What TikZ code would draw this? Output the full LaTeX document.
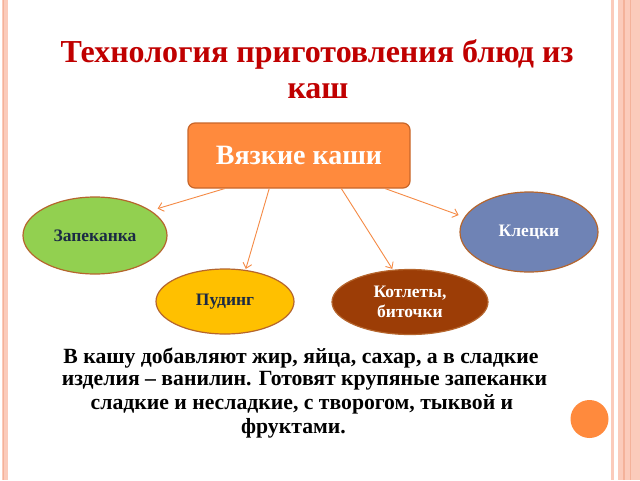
\documentclass[tikz,border=0pt]{standalone}
\usepackage{fontspec}
\setmainfont{Liberation Serif}
\usetikzlibrary{shapes.geometric,arrows.meta}
\definecolor{titlered}{HTML}{C00000}
\definecolor{boxorange}{HTML}{FF8A3D}
\definecolor{boxedge}{HTML}{C8662A}
\definecolor{elledge}{HTML}{B5652D}
\definecolor{greenfill}{HTML}{92D050}
\definecolor{bluefill}{HTML}{6F83B5}
\definecolor{yellowfill}{HTML}{FFC000}
\definecolor{brownfill}{HTML}{9C3D06}
\definecolor{arrowcol}{HTML}{F58A45}
\definecolor{navytext}{HTML}{1B2A45}
\definecolor{stripe}{HTML}{FBCBBB}
\definecolor{stripedark}{HTML}{F4B29A}
\tikzset{
  oval/.style={ellipse, draw=elledge, line width=1.2pt, inner sep=0pt, font=\bfseries\fontsize{17.5}{20}\selectfont, align=center},
  arr/.style={draw=arrowcol, line width=0.9pt, -{Straight Barb[length=5pt,width=9pt]}},
  titletext/.style={text=titlered, font=\bfseries\fontsize{32}{36}\selectfont},
  bodytext/.style={text=black, font=\bfseries\fontsize{21.7}{24}\selectfont, inner sep=0pt}
}
\begin{document}
\begin{tikzpicture}[x=1pt,y=-1pt]
\useasboundingbox (0,0) rectangle (640,480);
\fill[white] (0,0) rectangle (640,480);
% border stripes
\fill[stripe] (2,0) rectangle (7.5,480);
\fill[stripedark] (3,0) rectangle (4,480);
\fill[stripe] (611,0) rectangle (613.5,480);
\fill[stripe] (618,0) rectangle (640,480);
\fill[stripedark] (623,0) rectangle (624.5,480);
\fill[stripedark] (630,0) rectangle (631,480);
% title
\node[titletext] (t1) at (317,54) {Технология приготовления блюд из};
\node[titletext] (t2) at (318,91) {каш};
% main box
\node[rectangle, rounded corners=7pt, draw=boxedge, line width=1.2pt, fill=boxorange,
      minimum width=222pt, minimum height=65pt, text=white,
      font=\bfseries\fontsize{28}{32}\selectfont] (box) at (299,155.5) {Вязкие каши};
% ellipses
\node[oval, fill=greenfill, text=navytext, minimum width=144pt, minimum height=77pt] (zap) at (95,235.5) {Запеканка};
\node[oval, fill=bluefill, text=white, minimum width=138pt, minimum height=80pt] (kle) at (529,232) {Клецки};
\node[oval, fill=yellowfill, text=navytext, minimum width=138pt, minimum height=65pt] (pud) at (225,301.5) {Пудинг};
\node[oval, fill=brownfill, text=white, minimum width=156pt, minimum height=65pt] (kot) at (410,302) {Котлеты,\\биточки};
% arrows
\draw[arr, shorten >=7pt] (box.-156) -- (zap.24);
\draw[arr, shorten >=1pt] (box.-132) -- (pud.57);
\draw[arr, shorten >=1pt] (box.-38) -- (kot.118);
\draw[arr, shorten >=6pt] (box.-21) -- (kle.167);
% body text
\node[bodytext] (b1) at (301,358) {В кашу добавляют жир, яйца, сахар, а в сладкие};
\node[bodytext] (b2) at (304.5,381) {изделия – ванилин. Готовят крупяные запеканки};
\node[bodytext] (b3) at (302,404.5) {сладкие и несладкие, с творогом, тыквой и};
\node[bodytext] (b4) at (293.5,428) {фруктами.};
% decorative circle
\fill[boxorange] (589.5,419) circle (19);
\end{tikzpicture}
\end{document}
